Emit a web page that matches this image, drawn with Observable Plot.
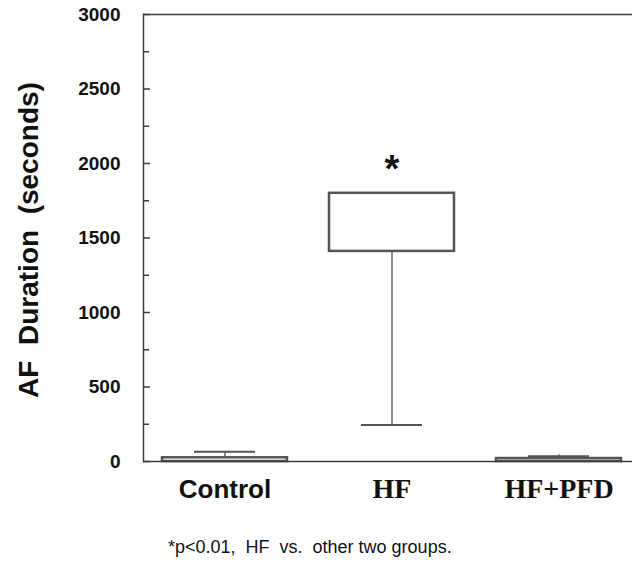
<!DOCTYPE html>
<html>
<head>
<meta charset="utf-8">
<script src="https://cdn.jsdelivr.net/npm/d3@7"></script>
<script src="https://cdn.jsdelivr.net/npm/@observablehq/plot@0.6"></script>
<style>
  body { margin: 0; background: #fff; width: 632px; height: 570px; position: relative; overflow: hidden; }
  #chart { position: absolute; left: 0; top: 0; }
  #note { position: absolute; left: 168px; top: 537px; font-family: "Liberation Sans", Arial, sans-serif; font-size: 18px; color: #111; white-space: pre; }
</style>
</head>
<body>
<div id="chart"></div>
<div id="note"></div>
<script>
// ---- data ----
const groups      = ["Control", "HF", "HF+PFD"];
const boxLow      = [0, 1410, 0];
const boxHigh     = [25, 1800, 20];
const whiskerEnd  = [65, 245, 45];
const capValue    = [65, 245, 35];
const yTicks      = [0, 500, 1000, 1500, 2000, 2500, 3000];
const yMinorTicks = [250, 750, 1250, 1750, 2250, 2750];
const yTitle      = "AF  Duration  (seconds)";
const sigGroup    = ["HF"];
const sigValue    = [2000];
const sigLabel    = ["*"];
const footnote    = "*p<0.01,  HF  vs.  other two groups.";

const rows = groups.map((g, i) => ({
  group: g,
  low: boxLow[i],
  high: boxHigh[i],
  wStart: whiskerEnd[i] > boxHigh[i] ? boxHigh[i] : boxLow[i],
  wEnd: whiskerEnd[i],
  cap: capValue[i]
}));
const sig = sigGroup.map((g, i) => ({group: g, value: sigValue[i], label: sigLabel[i]}));

const line = "#3c3c3c";
const sans = "'Liberation Sans', Arial, sans-serif";
const serif = "'Liberation Serif', 'Times New Roman', serif";

const chart = Plot.plot({
  width: 632,
  height: 515,
  marginTop: 14,
  marginBottom: 54,
  marginLeft: 143,
  marginRight: 0,
  style: {background: "#fff", color: "#111"},
  x: {type: "band", domain: groups, range: [141, 643], paddingInner: 0.25, paddingOuter: 0.125, axis: null},
  y: {domain: [0, 3000], axis: null},
  marks: [
    Plot.ruleX(rows, {x: "group", y1: "wStart", y2: "wEnd", stroke: "#666", strokeWidth: 1.5}),
    Plot.tickY(rows, {x: "group", y: "cap", insetLeft: 32, insetRight: 32, stroke: "#555", strokeWidth: 2}),
    Plot.barY(rows, {x: "group", y1: "low", y2: "high", fill: "#fff", stroke: "#555", strokeWidth: 2.5}),
    Plot.ruleY([3000], {stroke: line, strokeWidth: 1.5}),
    Plot.ruleY([0], {stroke: line, strokeWidth: 1.5}),
    Plot.frame({anchor: "left", stroke: line, strokeWidth: 1.5}),
    Plot.axisY({ticks: yTicks, tickSize: -7, tickFormat: () => "", label: null, stroke: line, strokeWidth: 1.5}),
    Plot.axisY({ticks: yMinorTicks, tickSize: -6, tickFormat: () => "", label: null, stroke: line, strokeWidth: 1.5}),
    Plot.text(yTicks, {y: d => d, text: d => String(d), frameAnchor: "left", textAnchor: "end", dx: -23, fontSize: 19, fontWeight: "bold", fontFamily: sans, fill: "#111"}),
    Plot.text([yTitle], {frameAnchor: "left", textAnchor: "middle", rotate: -90, dx: -114, dy: 2, fontSize: 28, fontWeight: "bold", fontFamily: sans, fill: "#111"}),
    Plot.text(groups.filter(g => g === "Control"), {x: d => d, frameAnchor: "bottom", dy: 36, fontSize: 26, fontWeight: "bold", fontFamily: sans, fill: "#111"}),
    Plot.text(groups.filter(g => g !== "Control"), {x: d => d, frameAnchor: "bottom", dy: 36, fontSize: 28, fontWeight: "bold", fontFamily: serif, fill: "#111"}),
    Plot.text(sig, {x: "group", y: "value", text: "label", dy: 6, fontSize: 38, fontWeight: "bold", fontFamily: sans, fill: "#111"})
  ]
});
document.getElementById("chart").appendChild(chart);
document.getElementById("note").textContent = footnote;
</script>
</body>
</html>
